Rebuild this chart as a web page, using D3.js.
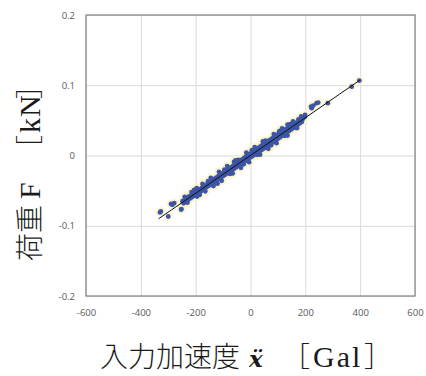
<!DOCTYPE html>
<html>
<head>
<meta charset="utf-8">
<script src="https://cdn.jsdelivr.net/npm/d3@7"></script>
<style>
  html, body { margin: 0; padding: 0; background: #ffffff; }
  #chart { width: 426px; height: 376px; }
</style>
</head>
<body>
<div id="chart"></div>
<script>
// Axis ticks
const xTicks = [-600, -400, -200, 0, 200, 400, 600];
const yTicks = [-0.2, -0.1, 0, 0.1, 0.2];

// Measured points: input acceleration [Gal] vs load [kN]
const accel = [
  -330, -327, -300, -285, -278, -252, -206, -196, -290, -253,
  -248, -244, -240, -236, -232, -228, -225, -221, -218, -214,
  -210, -207, -203, -200, -197, -193, -190, -187, -183, -180,
  -177, -173, -170, -167, -163, -160, -157, -153, -150, -147,
  -143, -140, -137, -133, -130, -127, -123, -120, -117, -113,
  -110, -107, -103, -100, -97, -93, -90, -87, -83, -80,
  -77, -73, -70, -67, -63, -60, -57, -53, -50, -47,
  -43, -40, -37, -33, -30, -27, -23, -20, -17, -13,
  -10, -7, -3, 0, 3, 7, 10, 13, 17, 20,
  23, 27, 30, 33, 37, 40, 43, 47, 50, 53,
  57, 60, 63, 67, 70, 73, 77, 80, 83, 87,
  90, 93, 97, 100, 103, 107, 110, 113, 117, 120,
  123, 127, 130, 133, 137, 140, 143, 147, 150, 153,
  157, 160, 163, 167, 170, 173, 177, 180, 183, 187,
  190, -215, -185, -155, -125, -95, -75, -45, -25, 5,
  25, 55, 75, 105, 125, 145, 165, 175, 195, 199,
  221, 229, 199, 223, 241, 247, 282, 369, 397,
  -240, -230, -205, -195, -175, -165, -145, -135, -115, -105,
  -85, -65, -55, -35, -15, -5, 15, 35, 45, 65,
  85, 95, 115, 135, 155, 170, 185, 135, -60, -120
];
const load = [
  -0.0810, -0.0797, -0.0868, -0.0701, -0.0677, -0.0762, -0.0498, -0.0464, -0.0690, -0.0770,
  -0.0650, -0.0680, -0.0628, -0.0650, -0.0605, -0.0630, -0.0585, -0.0612, -0.0570, -0.0596,
  -0.0548, -0.0575, -0.0530, -0.0560, -0.0515, -0.0540, -0.0495, -0.0525, -0.0478, -0.0505,
  -0.0460, -0.0488, -0.0440, -0.0470, -0.0425, -0.0452, -0.0405, -0.0432, -0.0385, -0.0418,
  -0.0365, -0.0395, -0.0352, -0.0380, -0.0330, -0.0365, -0.0310, -0.0345, -0.0295, -0.0328,
  -0.0275, -0.0310, -0.0255, -0.0292, -0.0238, -0.0275, -0.0220, -0.0258, -0.0200, -0.0240,
  -0.0182, -0.0222, -0.0165, -0.0205, -0.0145, -0.0188, -0.0128, -0.0170, -0.0110, -0.0152,
  -0.0090, -0.0135, -0.0072, -0.0118, -0.0055, -0.0100, -0.0035, -0.0082, -0.0018, -0.0062,
  0.0002, -0.0045, 0.0020, -0.0028, 0.0038, -0.0010, 0.0058, 0.0008, 0.0075, 0.0025,
  0.0095, 0.0042, 0.0112, 0.0060, 0.0130, 0.0078, 0.0148, 0.0095, 0.0165, 0.0112,
  0.0185, 0.0130, 0.0200, 0.0148, 0.0220, 0.0165, 0.0238, 0.0185, 0.0255, 0.0202,
  0.0272, 0.0220, 0.0292, 0.0240, 0.0308, 0.0258, 0.0325, 0.0275, 0.0342, 0.0295,
  0.0360, 0.0312, 0.0378, 0.0330, 0.0395, 0.0348, 0.0412, 0.0365, 0.0428, 0.0385,
  0.0445, 0.0400, 0.0460, 0.0420, 0.0472, 0.0440, 0.0488, 0.0458, 0.0500, 0.0478,
  0.0515, -0.0520, -0.0560, -0.0365, -0.0395, -0.0200, -0.0262, -0.0062, -0.0125, 0.0075,
  0.0010, 0.0210, 0.0145, 0.0345, 0.0280, 0.0445, 0.0395, 0.0515, 0.0540, 0.0578,
  0.0697, 0.0711, 0.0555, 0.0674, 0.0745, 0.0754, 0.0745, 0.0980, 0.1067,
  -0.0590, -0.0672, -0.0490, -0.0585, -0.0405, -0.0510, -0.0318, -0.0435, -0.0232, -0.0360,
  -0.0150, -0.0255, -0.0070, -0.0175, 0.0040, -0.0095, 0.0120, 0.0012, 0.0200, 0.0095,
  0.0305, 0.0175, 0.0385, 0.0285, 0.0485, 0.0390, 0.0555, 0.0440, -0.0090, -0.0400
];

// Linear trend line end points
const trendX = [-335, 398];
const trendY = [-0.090, 0.107];

const width = 426;
const height = 376;
const margin = { top: 15, right: 11, bottom: 80, left: 86 };

const svg = d3.select("#chart")
  .append("svg")
  .attr("width", width)
  .attr("height", height);

const x = d3.scaleLinear()
  .domain([-600, 600])
  .range([margin.left, width - margin.right]);

const y = d3.scaleLinear()
  .domain([-0.2, 0.2])
  .range([height - margin.bottom, margin.top]);

// Excel style labels use a plain hyphen for negatives
const hyphen = s => s.replace("\u2212", "-");

// Grid lines
svg.append("g")
  .attr("transform", `translate(0,${height - margin.bottom})`)
  .call(d3.axisBottom(x).tickValues(xTicks).tickSize(-(height - margin.top - margin.bottom)).tickFormat(""))
  .call(g => g.select(".domain").remove())
  .selectAll("line")
  .attr("stroke", "#d9d9d9")
  .attr("stroke-width", 1);

svg.append("g")
  .attr("transform", `translate(${margin.left},0)`)
  .call(d3.axisLeft(y).tickValues(yTicks).tickSize(-(width - margin.left - margin.right)).tickFormat(""))
  .call(g => g.select(".domain").remove())
  .selectAll("line")
  .attr("stroke", "#d9d9d9")
  .attr("stroke-width", 1);

// Plot border
svg.append("rect")
  .attr("x", x(-600))
  .attr("y", y(0.2))
  .attr("width", x(600) - x(-600))
  .attr("height", y(-0.2) - y(0.2))
  .attr("fill", "none")
  .attr("stroke", "#8a8a8a")
  .attr("stroke-width", 1.3);

// Tick labels
svg.append("g")
  .attr("transform", `translate(0,${height - margin.bottom})`)
  .call(d3.axisBottom(x).tickValues(xTicks).tickSize(0).tickPadding(13).tickFormat(d => hyphen(d3.format("d")(d))))
  .call(g => g.select(".domain").remove())
  .selectAll("text")
  .attr("font-family", "'Open Sans', 'Liberation Sans', sans-serif")
  .attr("font-size", "9.5px")
  .attr("fill", "#595959");

svg.append("g")
  .attr("transform", `translate(${margin.left},0)`)
  .call(d3.axisLeft(y).tickValues(yTicks).tickSize(0).tickPadding(11)
    .tickFormat(d => d === 0 ? "0" : hyphen(d3.format(".1f")(d))))
  .call(g => g.select(".domain").remove())
  .selectAll("text")
  .attr("font-family", "'Open Sans', 'Liberation Sans', sans-serif")
  .attr("font-size", "9.5px")
  .attr("fill", "#595959");

const points = accel.map((a, i) => ({ a, f: load[i] }));

// Pale halo behind markers
svg.append("g")
  .selectAll("circle")
  .data(points)
  .enter()
  .append("circle")
  .attr("cx", d => x(d.a))
  .attr("cy", d => y(d.f))
  .attr("r", 4.5)
  .attr("fill", "#fbf2c8")
  .attr("opacity", 0.7);

// Markers
svg.append("g")
  .selectAll("circle")
  .data(points)
  .enter()
  .append("circle")
  .attr("cx", d => x(d.a))
  .attr("cy", d => y(d.f))
  .attr("r", 2.4)
  .attr("fill", "#3c55a5");

// Trend line
svg.append("path")
  .datum(trendX.map((a, i) => [a, trendY[i]]))
  .attr("d", d3.line().x(d => x(d[0])).y(d => y(d[1])))
  .attr("fill", "none")
  .attr("stroke", "#111111")
  .attr("stroke-width", 1);

// Axis titles
const jp = "'Noto Sans CJK JP', sans-serif";
const serif = "'Liberation Serif', 'DejaVu Serif', serif";

const xt = svg.append("text")
  .attr("y", 367)
  .attr("font-family", jp)
  .attr("font-weight", 300)
  .attr("font-size", "28px")
  .attr("fill", "#1a1a1a");
xt.append("tspan").attr("x", 100).text("入力加速度");
xt.append("tspan")
  .attr("x", 249)
  .attr("font-family", "'DejaVu Serif', serif")
  .attr("font-style", "italic")
  .attr("font-weight", "bold")
  .attr("font-size", "23px")
  .text("ẍ");
xt.append("tspan").attr("x", 282).text("［");
xt.append("tspan").attr("x", 313).attr("font-family", serif).attr("font-size", "30px")
  .attr("letter-spacing", "2px").text("Gal");
xt.append("tspan").attr("x", 364).text("］");

const yt = svg.append("text")
  .attr("transform", "translate(40,261) rotate(-90)")
  .attr("font-family", jp)
  .attr("font-weight", 300)
  .attr("font-size", "28px")
  .attr("fill", "#1a1a1a");
yt.append("tspan").attr("x", 0).text("荷重");
yt.append("tspan").attr("x", 62).attr("font-family", serif).attr("font-size", "30px").text("F");
yt.append("tspan").attr("x", 98).text("［");
yt.append("tspan").attr("x", 128).attr("font-family", serif).attr("font-size", "30px")
  .attr("letter-spacing", "1px").text("kN");
yt.append("tspan").attr("x", 162).text("］");
</script>
</body>
</html>
